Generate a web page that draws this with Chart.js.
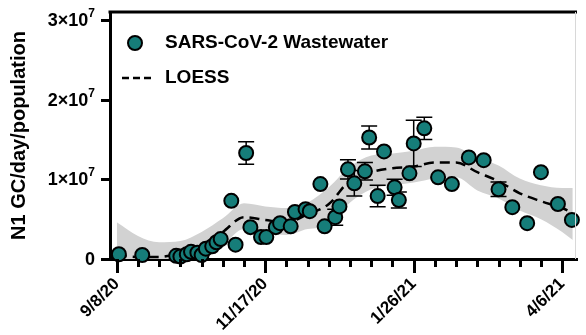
<!DOCTYPE html>
<html>
<head>
<meta charset="utf-8">
<script src="https://cdn.jsdelivr.net/npm/chart.js@4.4.1/dist/chart.umd.min.js"></script>
<style>
  html, body { margin: 0; padding: 0; background: #fff; }
  #wrap { width: 586px; height: 335px; }
</style>
</head>
<body>
<div id="wrap"><canvas id="c" width="586" height="335"></canvas></div>
<script>
// ---- Data (x = days since 9/8/20) ----
const pointDays = [1,12,28,30,33,35,38,40,42,45,47,49,54,56,61,63,68,70.5,75,77,82,84,89,91,96,98,103,105,109,112,117,119,123,126,131,133,138,140,145,151.5,158,166,173,180,186.5,193.5,200,208,214.6];
const pointValues = [0.6e6,0.5e6,0.4e6,0.3e6,0.6e6,0.9e6,0.8e6,0.5e6,1.3e6,1.6e6,2.1e6,2.5e6,7.3e6,1.8e6,13.3e6,4.0e6,2.75e6,2.75e6,4.0e6,4.5e6,4.1e6,5.9e6,6.25e6,6.0e6,9.4e6,4.1e6,5.25e6,6.6e6,11.25e6,9.5e6,11.0e6,15.25e6,7.9e6,13.5e6,9.0e6,7.4e6,10.75e6,14.5e6,16.4e6,10.25e6,9.4e6,12.75e6,12.4e6,8.75e6,6.5e6,4.5e6,10.9e6,6.9e6,4.9e6];
const pointErrors = [0,0,0,0,0,0,0,0,0,0,0,0,0,0,1.4e6,0,0,0,0,0,0,0,0,0,0,0,1.0e6,0,1.2e6,1.6e6,1.1e6,1.45e6,1.35e6,0,1.0e6,1.0e6,0,2.9e6,1.4e6,0,0,0,0,0.9e6,0,0,0,0,0];

const loessDays  = [0,10,20,30,40,50,60,70,80,90,100,110,120,130,140,150,160,170,180,190,200,210,215];
const loessFit   = [0.5e6,0.25e6,0.25e6,0.75e6,1.5e6,3.4e6,5.25e6,4.9e6,4.6e6,5.6e6,6.9e6,9.9e6,10.9e6,11.4e6,11.6e6,12.1e6,12.1e6,10.9e6,9.75e6,8.25e6,7.25e6,6.4e6,5.75e6];
const loessUpper = [4.6e6,2.9e6,2.1e6,2.25e6,3.4e6,5.1e6,7.0e6,6.6e6,6.4e6,7.1e6,9.0e6,11.6e6,13.0e6,13.25e6,13.6e6,14.1e6,14.0e6,12.75e6,11.75e6,10.1e6,9.25e6,8.9e6,8.9e6];
const loessLower = [-3.0e6,-2.0e6,-1.5e6,-0.5e6,0.25e6,1.75e6,3.75e6,3.25e6,3.0e6,3.75e6,4.2e6,7.1e6,8.75e6,9.25e6,9.6e6,10.1e6,10.25e6,8.6e6,7.6e6,6.1e6,5.0e6,3.4e6,2.4e6];

const xTickDays = [0,10,20,30,40,50,60,70,80,90,100,110,120,130,140,150,160,170,180,190,200,210];
const xTickLabels = {0:'9/8/20', 70:'11/17/20', 140:'1/26/21', 210:'4/6/21'};
const yTickValues = [0,1e7,2e7,3e7];
const yTickBase = ['0','1×10','2×10','3×10'];
const yTickExp  = ['','7','7','7'];

const seriesLabels = ['SARS-CoV-2 Wastewater','LOESS'];
const TEAL = '#167d79';
const FONT = "'Liberation Sans', Arial, Helvetica, sans-serif";

const toXY = (xs, ys) => xs.map((x, i) => ({x: x, y: ys[i]}));

const tickPlugin = {
  id: 'customTicks',
  afterDraw(chart) {
    const ctx = chart.ctx, xs = chart.scales.x, ys = chart.scales.y, ca = chart.chartArea;
    ctx.save();
    ctx.strokeStyle = '#000';
    ctx.lineWidth = 3;
    ctx.lineCap = 'butt';
    xTickDays.forEach(v => {
      const px = Math.round(xs.getPixelForValue(v)) + 0.5;
      const len = (v % 70 === 0) ? 14 : 8;
      ctx.beginPath(); ctx.moveTo(px, ca.bottom); ctx.lineTo(px, ca.bottom + len); ctx.stroke();
    });
    // y ticks and labels with superscript exponent
    ctx.fillStyle = '#000';
    ctx.textBaseline = 'middle';
    yTickValues.forEach((v, i) => {
      const py = Math.round(ys.getPixelForValue(v)) + 0.5;
      ctx.beginPath(); ctx.moveTo(ca.left - 9, py); ctx.lineTo(ca.left, py); ctx.stroke();
      const right = ca.left - 15;
      ctx.font = 'bold 12px ' + FONT;
      const ew = yTickExp[i] ? ctx.measureText(yTickExp[i]).width : 0;
      ctx.textAlign = 'right';
      if (yTickExp[i]) ctx.fillText(yTickExp[i], right, py - 7);
      ctx.font = 'bold 18px ' + FONT;
      ctx.fillText(yTickBase[i], right - ew, py + 1);
    });
    // top frame
    ctx.beginPath(); ctx.moveTo(ca.left - 1.5, ca.top); ctx.lineTo(ca.right, ca.top); ctx.stroke();
    // right frame (light)
    ctx.strokeStyle = '#d8d8d8'; ctx.lineWidth = 1;
    ctx.beginPath(); ctx.moveTo(ca.right - 1.5, ca.top); ctx.lineTo(ca.right - 1.5, ca.bottom); ctx.stroke();
    // legend
    ctx.fillStyle = TEAL; ctx.strokeStyle = '#000'; ctx.lineWidth = 2;
    ctx.beginPath(); ctx.arc(135, 43, 7, 0, Math.PI * 2); ctx.fill(); ctx.stroke();
    ctx.setLineDash([7, 4]); ctx.lineWidth = 2.5;
    ctx.beginPath(); ctx.moveTo(122, 78); ctx.lineTo(152, 78); ctx.stroke();
    ctx.setLineDash([]);
    ctx.fillStyle = '#000';
    ctx.font = 'bold 19px ' + FONT;
    ctx.textBaseline = 'middle'; ctx.textAlign = 'left';
    ctx.fillText(seriesLabels[0], 165, 43);
    ctx.fillText(seriesLabels[1], 165, 78);
    ctx.restore();
  }
};

const errorBarPlugin = {
  id: 'errorBars',
  beforeDatasetDraw(chart, args) {
    if (args.index !== 3) return;
    const ctx = chart.ctx, xs = chart.scales.x, ys = chart.scales.y;
    ctx.save();
    ctx.strokeStyle = '#000';
    ctx.lineWidth = 1.5;
    pointDays.forEach((d, i) => {
      const e = pointErrors[i];
      if (!e) return;
      const px = xs.getPixelForValue(d);
      const yTop = ys.getPixelForValue(pointValues[i] + e);
      const yBot = ys.getPixelForValue(pointValues[i] - e);
      ctx.beginPath();
      ctx.moveTo(px, yTop); ctx.lineTo(px, yBot);
      ctx.moveTo(px - 8, yTop); ctx.lineTo(px + 8, yTop);
      ctx.moveTo(px - 8, yBot); ctx.lineTo(px + 8, yBot);
      ctx.stroke();
    });
    ctx.restore();
  }
};

new Chart(document.getElementById('c'), {
  type: 'line',
  data: {
    datasets: [
      { label: 'upper', data: toXY(loessDays, loessUpper), borderWidth: 0, pointRadius: 0,
        backgroundColor: '#d2d2d2', fill: '+1', tension: 0.4, cubicInterpolationMode: 'monotone', order: 4 },
      { label: 'lower', data: toXY(loessDays, loessLower), borderWidth: 0, pointRadius: 0,
        fill: false, tension: 0.4, cubicInterpolationMode: 'monotone', order: 3 },
      { label: seriesLabels[1], data: toXY(loessDays, loessFit), borderColor: '#000', borderWidth: 2.5,
        borderDash: [10, 6], pointRadius: 0, fill: false, tension: 0.4, cubicInterpolationMode: 'monotone', order: 2 },
      { label: seriesLabels[0], type: 'scatter', data: toXY(pointDays, pointValues),
        pointRadius: 7, pointBackgroundColor: TEAL, pointBorderColor: '#000', pointBorderWidth: 2,
        showLine: false, order: 1, clip: false }
    ]
  },
  options: {
    responsive: false,
    devicePixelRatio: 1,
    animation: false,
    events: [],
    layout: { padding: { top: 12, right: 0, left: 0, bottom: 0 } },
    plugins: { legend: { display: false }, tooltip: { enabled: false } },
    scales: {
      x: {
        type: 'linear', min: -3.2, max: 217,
        afterBuildTicks: s => { s.ticks = xTickDays.map(v => ({value: v})); },
        afterFit: s => { s.height = 76; s.paddingLeft = 0; s.paddingRight = 0; },
        grid: { display: false, drawTicks: false },
        border: { display: true, color: '#000', width: 3 },
        ticks: {
          autoSkip: false, minRotation: 45, maxRotation: 45, padding: 15,
          color: '#000', font: { family: FONT, size: 17, weight: 'bold' },
          callback: v => xTickLabels[v] || ''
        }
      },
      y: {
        type: 'linear', min: 0, max: 3.1e7,
        afterBuildTicks: s => { s.ticks = yTickValues.map(v => ({value: v})); },
        afterFit: s => { s.width = 110; s.paddingTop = 0; s.paddingBottom = 0; },
        grid: { display: false, drawTicks: false },
        border: { display: true, color: '#000', width: 3 },
        title: { display: true, text: 'N1 GC/day/population', color: '#000',
                 font: { family: FONT, size: 20, weight: 'bold' }, padding: { top: 7, bottom: 0 } },
        ticks: { display: false }
      }
    }
  },
  plugins: [tickPlugin, errorBarPlugin]
});
</script>
</body>
</html>
